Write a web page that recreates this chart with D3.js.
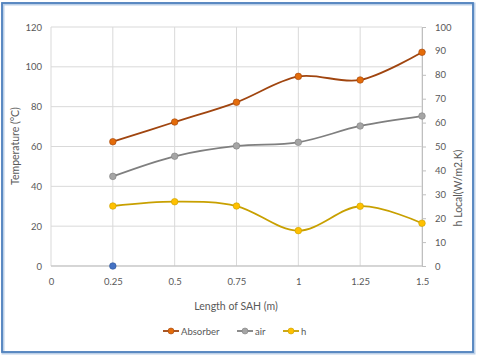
<!DOCTYPE html>
<html><head><meta charset="utf-8">
<script src="https://cdn.jsdelivr.net/npm/d3@7"></script>
<style>body{margin:0;background:#fff}svg{display:block}text{font-family:Lato,"Open Sans",sans-serif;fill:#595959}</style>
</head><body><svg id="c" width="480" height="357"></svg>
<script>
const xValues = [0.25, 0.5, 0.75, 1, 1.25, 1.5];
const xTicks = [0, 0.25, 0.5, 0.75, 1, 1.25, 1.5];
const absorber = [62.4, 72.3, 82.2, 95.2, 93.4, 107.3];
const air = [45, 55.1, 60.3, 62.1, 70.3, 75.3];
const hLocal = [25.1, 26.9, 25.1, 14.8, 25, 17.9];
const extraPoint = [{x: 0.25, y: 0}];
const leftTicks = [0, 20, 40, 60, 80, 100, 120];
const rightTicks = [0, 10, 20, 30, 40, 50, 60, 70, 80, 90, 100];
const legendNames = ["Absorber", "air", "h"];

const svg = d3.select("#c");
const L = 51, R = 422, T = 27, B = 266;
const x = d3.scaleLinear().domain([0, 1.5]).range([L, R]);
const yL = d3.scaleLinear().domain([0, 120]).range([B, T]);
const yR = d3.scaleLinear().domain([0, 100]).range([B, T]);

// frame
svg.append("rect").attr("x", 3).attr("y", 4).attr("width", 471).attr("height", 349)
  .attr("fill", "none").attr("stroke", "#bcd0e8").attr("stroke-width", 3);
svg.append("rect").attr("x", 2).attr("y", 3).attr("width", 471).attr("height", 349)
  .attr("fill", "none").attr("stroke", "#4f81bd").attr("stroke-width", 1.8);

// grid
const g = svg.append("g");
g.selectAll(".hg").data(leftTicks).join("line")
  .attr("x1", L).attr("x2", R).attr("y1", d => yL(d)).attr("y2", d => yL(d))
  .attr("stroke", "#d9d9d9").attr("stroke-width", 1);
g.selectAll(".vg").data(xTicks).join("line")
  .attr("x1", d => x(d)).attr("x2", d => x(d)).attr("y1", T).attr("y2", B)
  .attr("stroke", "#d9d9d9").attr("stroke-width", 1);
// bottom axis line
svg.append("line").attr("x1", L).attr("x2", R).attr("y1", B).attr("y2", B).attr("stroke", "#bfbfbf");

// left axis
const axL = d3.axisLeft(yL).tickValues(leftTicks).tickSize(0).tickPadding(9);
const gl = svg.append("g").attr("transform", `translate(${L},0)`).call(axL);
gl.select(".domain").remove();
gl.selectAll("text").attr("font-size", 9.5).style("fill", "#595959");

// right axis
const axR = d3.axisRight(yR).tickValues(rightTicks).tickSize(4).tickPadding(9);
const gr = svg.append("g").attr("transform", `translate(${R},0)`).call(axR);
gr.select(".domain").attr("stroke", "#bfbfbf");
gr.selectAll("line").attr("stroke", "#bfbfbf");
gr.selectAll("text").attr("font-size", 9.5).style("fill", "#595959");

// bottom axis
const axB = d3.axisBottom(x).tickValues(xTicks).tickFormat(d => String(d)).tickSize(0).tickPadding(12);
const gb = svg.append("g").attr("transform", `translate(0,${B})`).call(axB);
gb.select(".domain").remove();
gb.selectAll("text").attr("font-size", 9.5).style("fill", "#595959");

// titles
svg.append("text").attr("transform", "translate(19,146) rotate(-90)").attr("text-anchor", "middle")
  .attr("font-size", 10.5).text("Temperature (°C)");
svg.append("text").attr("transform", "translate(462,188) rotate(-90)").attr("text-anchor", "middle")
  .attr("font-size", 10.5).text("h Local(W/m2.K)");
svg.append("text").attr("x", 236).attr("y", 310).attr("text-anchor", "middle")
  .attr("font-size", 10.5).text("Length of SAH (m)");

const curve = d3.curveCardinal.tension(0);
const series = [
  {vals: absorber, y: yL, line: "#a0450f", fill: "#e46c0a"},
  {vals: air, y: yL, line: "#7f7f7f", fill: "#a5a5a5"},
  {vals: hLocal, y: yR, line: "#c8a000", fill: "#ffc000"}
];
series.forEach(s => {
  const pts = xValues.map((v, i) => [x(v), s.y(s.vals[i])]);
  svg.append("path").attr("d", d3.line().curve(curve)(pts))
    .attr("fill", "none").attr("stroke", s.line).attr("stroke-width", 1.8);
  svg.append("g").selectAll("circle").data(pts).join("circle")
    .attr("cx", d => d[0]).attr("cy", d => d[1]).attr("r", 3.3)
    .attr("fill", s.fill).attr("stroke", s.line).attr("stroke-width", 0.6);
});
svg.append("g").selectAll("circle").data(extraPoint).join("circle")
  .attr("cx", d => x(d.x)).attr("cy", d => yL(d.y)).attr("r", 3.3)
  .attr("fill", "#4472c4").attr("stroke", "#2f5597").attr("stroke-width", 0.6);

// legend
const lx = [163, 237, 283];
legendNames.forEach((n, i) => {
  const s = series[i];
  const gg = svg.append("g");
  gg.append("line").attr("x1", lx[i]).attr("x2", lx[i] + 16).attr("y1", 331).attr("y2", 331)
    .attr("stroke", s.line).attr("stroke-width", 1.8);
  gg.append("circle").attr("cx", lx[i] + 8).attr("cy", 331).attr("r", 3)
    .attr("fill", s.fill).attr("stroke", s.line).attr("stroke-width", 0.6);
  gg.append("text").attr("x", lx[i] + 18).attr("y", 334.5).attr("font-size", 9.5).text(n);
});
</script></body></html>
